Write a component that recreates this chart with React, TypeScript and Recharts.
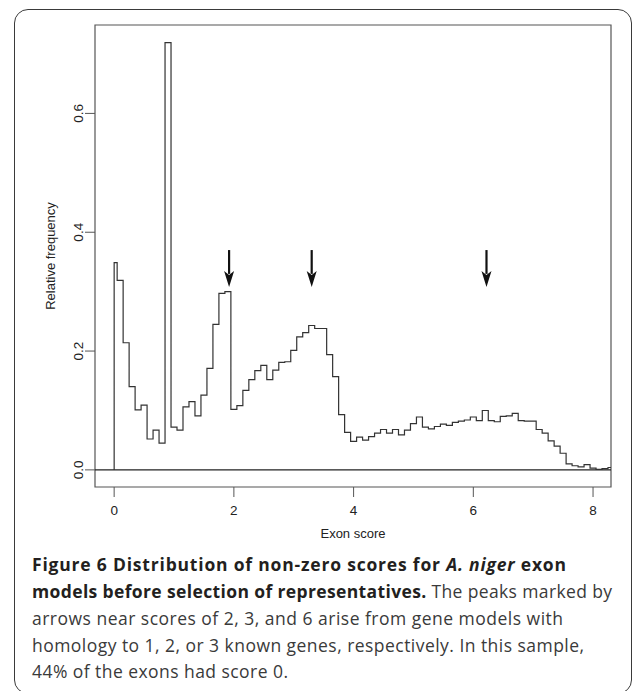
import React from 'react';
import { LineChart, Line, XAxis, YAxis, ReferenceLine, ReferenceArea } from 'recharts';

// Histogram bin centres (exon score) and relative frequencies
const binCenters = [
  0.0, 0.1, 0.2, 0.3, 0.4, 0.5, 0.6, 0.7, 0.8, 0.9,
  1.0, 1.1, 1.2, 1.3, 1.4, 1.5, 1.6, 1.7, 1.8, 1.9,
  2.0, 2.1, 2.2, 2.3, 2.4, 2.5, 2.6, 2.7, 2.8, 2.9,
  3.0, 3.1, 3.2, 3.3, 3.4, 3.5, 3.6, 3.7, 3.8, 3.9,
  4.0, 4.1, 4.2, 4.3, 4.4, 4.5, 4.6, 4.7, 4.8, 4.9,
  5.0, 5.1, 5.2, 5.3, 5.4, 5.5, 5.6, 5.7, 5.8, 5.9,
  6.0, 6.1, 6.2, 6.3, 6.4, 6.5, 6.6, 6.7, 6.8, 6.9,
  7.0, 7.1, 7.2, 7.3, 7.4, 7.5, 7.6, 7.7, 7.8, 7.9,
  8.0, 8.1, 8.2, 8.3,
];
const relFreq = [
  0.349, 0.319, 0.214, 0.140, 0.101, 0.109, 0.052, 0.067, 0.045, 0.719,
  0.072, 0.067, 0.106, 0.115, 0.091, 0.126, 0.171, 0.245, 0.297, 0.300,
  0.102, 0.108, 0.134, 0.152, 0.167, 0.176, 0.152, 0.168, 0.181, 0.182,
  0.201, 0.224, 0.231, 0.243, 0.238, 0.238, 0.194, 0.157, 0.093, 0.063,
  0.048, 0.055, 0.050, 0.056, 0.062, 0.068, 0.062, 0.068, 0.059, 0.067,
  0.078, 0.089, 0.072, 0.069, 0.073, 0.077, 0.075, 0.080, 0.082, 0.084,
  0.089, 0.083, 0.100, 0.083, 0.081, 0.090, 0.091, 0.095, 0.083, 0.082,
  0.082, 0.068, 0.062, 0.049, 0.040, 0.028, 0.010, 0.007, 0.005, 0.009,
  0.003, 0.001, 0.002, 0.004,
];
const binHalfWidth = 0.05;
const xDomain: [number, number] = [-0.32, 8.3];
const yDomain: [number, number] = [-0.0288, 0.7488];
const xTicks = [0, 2, 4, 6, 8];
const yTicks = [0, 0.2, 0.4, 0.6];
const arrowScores = [1.92, 3.3, 6.22];
const arrowTop = 0.37;
const arrowTip = 0.308;
const xLabel = 'Exon score';
const yLabel = 'Relative frequency';

// step outline points (left edge of each bin)
const stepData: { x: number; y: number }[] = [{ x: binCenters[0], y: 0 }];
binCenters.forEach((c, i) => {
  stepData.push({ x: i === 0 ? c : +(c - binHalfWidth).toFixed(3), y: relFreq[i] });
});
stepData.push({ x: xDomain[1], y: relFreq[relFreq.length - 1] });

const AXIS_FONT = '"Liberation Sans", Arial, Helvetica, sans-serif';
const CAPTION_FONT = '"Open Sans", "Noto Sans", sans-serif';

const YTick = (props: any) => {
  const { x, y, payload } = props;
  return (
    <text
      x={x}
      y={y}
      transform={`rotate(-90, ${x}, ${y})`}
      textAnchor="middle"
      fontSize={13.5}
      fontFamily={AXIS_FONT}
      fill="#222"
    >
      {Number(payload.value).toFixed(1)}
    </text>
  );
};

const YLabel = (props: any) => {
  const vb = props.viewBox || { x: 35, y: 25, width: 60, height: 462 };
  const x = vb.x + 20;
  const y = vb.y + vb.height / 2;
  return (
    <text
      x={x}
      y={y}
      transform={`rotate(-90, ${x}, ${y})`}
      textAnchor="middle"
      fontSize={13}
      fontFamily={AXIS_FONT}
      fill="#222"
    >
      {yLabel}
    </text>
  );
};

const ArrowShape = (props: any) => {
  const { x1, y1, x2, y2 } = props;
  const head = 16;
  const half = 5;
  return (
    <g>
      <line x1={x1} y1={y1} x2={x2} y2={y2 - head + 3} stroke="#111" strokeWidth={2.2} />
      <path
        d={`M${x2},${y2} L${x2 - half},${y2 - head} L${x2},${y2 - head + 4} L${x2 + half},${y2 - head} Z`}
        fill="#111"
      />
    </g>
  );
};

const captionLines = [
  { y: 571, len: 534 },
  { y: 598, len: 580 },
  { y: 625, len: 531 },
  { y: 652, len: 552 },
  { y: 678, len: 256 },
];

export default function App() {
  return (
    <div
      style={{
        position: 'absolute',
        left: 0,
        top: 0,
        width: 633,
        height: 691,
        overflow: 'hidden',
        background: '#fff',
      }}
    >
      <div
        style={{
          position: 'absolute',
          left: 14,
          top: 9,
          width: 618,
          height: 685,
          border: '1.5px solid #3a3a3a',
          borderRadius: 14,
          boxSizing: 'border-box',
        }}
      />
      <div style={{ position: 'absolute', left: 0, top: 0 }}>
        <LineChart
          width={633}
          height={560}
          data={stepData}
          margin={{ top: 25, right: 22, bottom: 22, left: 35 }}
          style={{ fontFamily: AXIS_FONT }}
        >
          <XAxis
            dataKey="x"
            type="number"
            domain={xDomain}
            allowDataOverflow
            ticks={xTicks}
            interval={0}
            height={51}
            tickSize={10}
            tickMargin={8}
            axisLine={false}
            tickLine={{ stroke: '#555' }}
            tick={{ fontSize: 13.5, fill: '#222', fontFamily: AXIS_FONT }}
            label={{ value: xLabel, position: 'insideBottom', offset: 0, fontSize: 13, fill: '#222' }}
          />
          <YAxis
            type="number"
            domain={yDomain}
            allowDataOverflow
            ticks={yTicks}
            interval={0}
            width={60}
            tickSize={10}
            tickMargin={1.5}
            axisLine={false}
            tickLine={{ stroke: '#555' }}
            tick={<YTick />}
            label={{ content: <YLabel /> }}
          />
          <ReferenceArea
            x1={xDomain[0]}
            x2={xDomain[1]}
            y1={yDomain[0]}
            y2={yDomain[1]}
            fill="none"
            stroke="#555"
            strokeWidth={1.2}
            ifOverflow="visible"
          />
          <ReferenceLine y={0} stroke="#222" strokeWidth={1.2} />
          <Line
            type="stepAfter"
            dataKey="y"
            stroke="#333"
            strokeWidth={1.2}
            dot={false}
            activeDot={false}
            isAnimationActive={false}
          />
          {arrowScores.map((s) => (
            <ReferenceLine
              key={s}
              segment={[
                { x: s, y: arrowTop },
                { x: s, y: arrowTip },
              ]}
              shape={ArrowShape}
              ifOverflow="visible"
            />
          ))}
        </LineChart>
      </div>
      <svg
        width={633}
        height={691}
        style={{ position: 'absolute', left: 0, top: 0, pointerEvents: 'none' }}
      >
        <text x={32} y={captionLines[0].y} textLength={captionLines[0].len} fontSize={17.5} fontFamily={CAPTION_FONT} fontWeight={700} fill="#231f20">
          Figure 6 Distribution of non-zero scores for <tspan fontStyle="italic">A. niger</tspan> exon
        </text>
        <text x={32} y={captionLines[1].y} textLength={captionLines[1].len} fontSize={17.5} fontFamily={CAPTION_FONT} fill="#3a3a3a">
          <tspan fontWeight={700} fill="#231f20">models before selection of representatives.</tspan> The peaks marked by
        </text>
        <text x={32} y={captionLines[2].y} textLength={captionLines[2].len} fontSize={17.5} fontFamily={CAPTION_FONT} fill="#3a3a3a">
          arrows near scores of 2, 3, and 6 arise from gene models with
        </text>
        <text x={32} y={captionLines[3].y} textLength={captionLines[3].len} fontSize={17.5} fontFamily={CAPTION_FONT} fill="#3a3a3a">
          homology to 1, 2, or 3 known genes, respectively. In this sample,
        </text>
        <text x={32} y={captionLines[4].y} textLength={captionLines[4].len} fontSize={17.5} fontFamily={CAPTION_FONT} fill="#3a3a3a">
          44% of the exons had score 0.
        </text>
      </svg>
    </div>
  );
}
